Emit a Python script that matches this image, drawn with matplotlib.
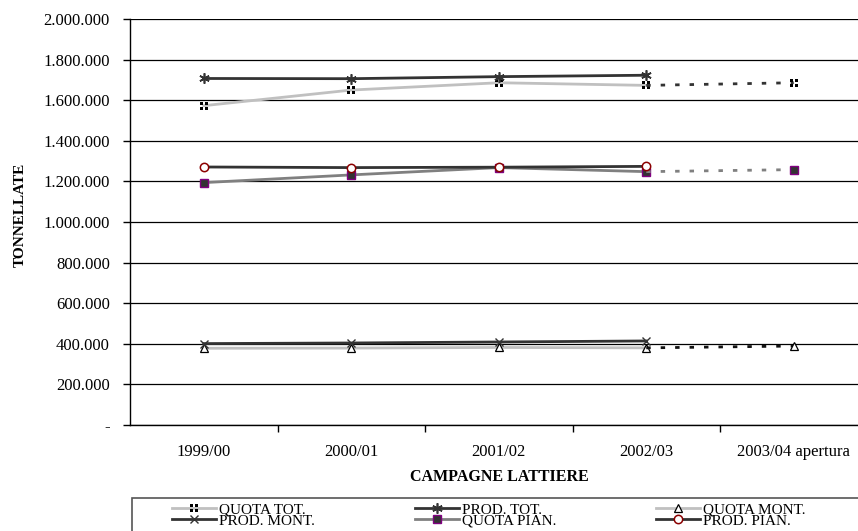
import matplotlib
matplotlib.use('Agg')
import matplotlib.pyplot as plt
from matplotlib.path import Path
from matplotlib.patches import Rectangle
from matplotlib.ticker import FuncFormatter, FixedLocator
import numpy as np

plt.rcParams['font.family'] = ['Liberation Serif', 'DejaVu Serif']

campagne = ['1999/00', '2000/01', '2001/02', '2002/03', '2003/04 apertura']

# tonnellate per campagna (le produzioni si fermano al 2002/03)
quota_tot = [1573000, 1650000, 1686000, 1673000, 1686000]
prod_tot = [1707000, 1706000, 1716000, 1723000]
quota_mont = [378000, 379000, 382000, 380000, 389000]
prod_mont = [401000, 404000, 409000, 414000]
quota_pian = [1194000, 1232000, 1268000, 1248000, 1258000]
prod_pian = [1271000, 1268000, 1270000, 1274000]


def four_squares():
    # marcatore a quattro quadratini
    verts, codes = [], []
    for cx in (-1, 1):
        for cy in (-1, 1):
            x0, x1 = sorted((0.3 * cx, 1.0 * cx))
            y0, y1 = sorted((0.3 * cy, 1.0 * cy))
            verts += [(x0, y0), (x1, y0), (x1, y1), (x0, y1), (x0, y0)]
            codes += [Path.MOVETO, Path.LINETO, Path.LINETO, Path.LINETO, Path.CLOSEPOLY]
    return Path(verts, codes)


fig = plt.figure(figsize=(8.58, 5.31), dpi=100)
ax = fig.add_axes([130 / 858, 1 - 425 / 531, 737.5 / 858, 406 / 531])

x = np.arange(len(campagne))
lw = 2.0
dotted = (0, (1.6, 3.6))
sq = four_squares()

l_qt, = ax.plot(x[:4], quota_tot[:4], color='#c0c0c0', lw=lw, marker=sq,
                ms=6, mfc='black', mec='black', mew=0, zorder=3)
ax.plot(x[3:], quota_tot[3:], color='#333333', lw=lw, ls=dotted, zorder=3)
ax.plot(x[4:], quota_tot[4:], ls='none', marker=sq, ms=6,
        mfc='black', mec='black', mew=0, zorder=4)

l_pt, = ax.plot(x[:4], prod_tot, color='#333333', lw=lw, marker=(6, 2, 0),
                ms=7.5, mec='#333333', mew=1.2, zorder=4)

l_qm, = ax.plot(x[:4], quota_mont[:4], color='#c0c0c0', lw=lw, marker='^',
                ms=5.5, mfc='white', mec='black', mew=0.9, zorder=3)
ax.plot(x[3:], quota_mont[3:], color='#111111', lw=lw, ls=dotted, zorder=3)
ax.plot(x[4:], quota_mont[4:], ls='none', marker='^', ms=5.5,
        mfc='white', mec='black', mew=0.9, zorder=4)

l_pm, = ax.plot(x[:4], prod_mont, color='#333333', lw=lw, marker='x',
                ms=6, mec='#333333', mew=1.0, zorder=4)

l_qp, = ax.plot(x[:4], quota_pian[:4], color='#808080', lw=lw, marker='s',
                ms=6.2, mfc='#333333', mec='#800080', mew=1.0, zorder=3)
ax.plot(x[3:], quota_pian[3:], color='#808080', lw=lw, ls=dotted, zorder=3)
ax.plot(x[4:], quota_pian[4:], ls='none', marker='s', ms=6.2,
        mfc='#333333', mec='#800080', mew=1.0, zorder=4)

l_pp, = ax.plot(x[:4], prod_pian, color='#333333', lw=lw, marker='o',
                ms=6, mfc='white', mec='#8b0000', mew=1.1, zorder=4)

ax.set_xlim(-0.5, 4.5)
ax.set_ylim(0, 2000000)
ax.set_yticks(np.arange(0, 2000001, 200000))
ax.yaxis.set_major_formatter(FuncFormatter(
    lambda v, p: '-' if v == 0 else f'{int(v):,}'.replace(',', '.')))
ax.grid(axis='y', color='black', lw=0.9)
ax.set_axisbelow(True)

ax.set_xticks(x)
ax.set_xticklabels(campagne)
ax.xaxis.set_minor_locator(FixedLocator([0.5, 1.5, 2.5, 3.5]))
ax.tick_params(axis='x', which='major', length=0, pad=14, labelsize=12)
ax.tick_params(axis='x', which='minor', length=5, width=1, direction='out')
ax.tick_params(axis='y', length=5, width=1, direction='out', pad=9.5, labelsize=12)

for s in ('top', 'right'):
    ax.spines[s].set_visible(False)
for s in ('left', 'bottom'):
    ax.spines[s].set_color('black')
    ax.spines[s].set_linewidth(1)

fig.text(20 / 858, 1 - 215 / 531, 'TONNELLATE', rotation=90, ha='center', va='center',
         fontsize=11, fontweight='bold')
fig.text(499 / 858, 1 - 477 / 531, 'CAMPAGNE LATTIERE', ha='center', va='center',
         fontsize=11.5, fontweight='bold')

# riquadro della legenda
fig.add_artist(Rectangle((131.5 / 858, -0.05), 0.9, 1 - 498 / 531 + 0.05,
                         transform=fig.transFigure, fill=False, ec='#555555', lw=1.2))

groups = [([l_qt, l_pm], ['QUOTA TOT.', 'PROD. MONT.'], 172),
          ([l_pt, l_qp], ['PROD. TOT.', 'QUOTA PIAN.'], 415),
          ([l_qm, l_pp], ['QUOTA MONT.', 'PROD. PIAN.'], 656)]
for handles, labels, xpos in groups:
    fig.legend(handles, labels, loc='upper left', bbox_to_anchor=(xpos / 858, 1 - 503 / 531),
               frameon=False, fontsize=11, numpoints=1, handlelength=2.9,
               handletextpad=0.15, labelspacing=-0.17, borderpad=0, borderaxespad=0)

fig.savefig('out.png', dpi=100)
